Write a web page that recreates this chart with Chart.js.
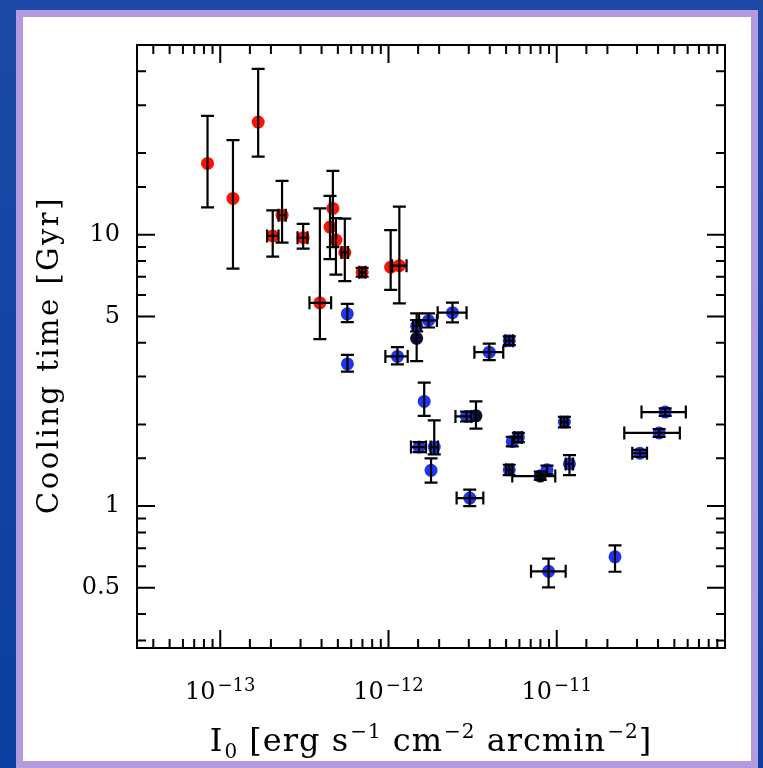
<!DOCTYPE html>
<html>
<head>
<meta charset="utf-8">
<script src="https://cdn.jsdelivr.net/npm/chart.js@4.4.0/dist/chart.umd.min.js"></script>
<style>
html, body { margin: 0; padding: 0; }
body { width: 763px; height: 768px; position: relative; overflow: hidden;
       background: linear-gradient(180deg, #1c49a6 0%, #0b3e9e 100%); }
#panel { position: absolute; left: 16px; top: 10px; width: 728px; height: 744px;
         background: #fff; border: 7px solid #b49be0; }
#chart { position: absolute; left: 0; top: 0; }
</style>
</head>
<body>
<div id="panel"></div>
<canvas id="chart" width="763" height="768"></canvas>
<script>
// red points (Gyr vs erg s-1 cm-2 arcmin-2), null = no error bar drawn
var redX   = [8.4e-14, 1.19e-13, 1.68e-13, 2.05e-13, 2.33e-13, 3.11e-13, 3.91e-13, 4.67e-13, 4.49e-13, 4.87e-13, 5.5e-13, 6.97e-13, 1.03e-12, 1.16e-12];
var redY   = [18.3, 13.6, 26.0, 9.9, 11.8, 9.75, 5.61, 12.5, 10.67, 9.55, 8.6, 7.27, 7.59, 7.69];
var redYlo = [12.6, 7.5, 19.4, 8.3, 9.35, 8.88, 4.12, 9.0, 8.13, 7.13, 6.74, 7.0, 6.26, 5.58];
var redYhi = [27.4, 22.3, 40.8, 12.3, 15.8, 10.96, 12.5, 17.2, 13.9, 11.5, 11.46, 7.55, 10.4, 12.7];
var redXlo = [null, null, null, 1.90e-13, 2.22e-13, 2.88e-13, 3.39e-13, null, null, null, 5.25e-13, 6.7e-13, null, 1.05e-12];
var redXhi = [null, null, null, 2.22e-13, 2.45e-13, 3.30e-13, 4.56e-13, null, null, null, 5.75e-13, 7.3e-13, null, 1.28e-12];

// blue points
var blueX   = [5.69e-13, 5.7e-13, 1.13e-12, 1.47e-12, 1.73e-12, 2.40e-12, 3.97e-12, 5.22e-12, 1.63e-12, 2.91e-12, 1.52e-12, 1.87e-12, 1.79e-12, 3.04e-12, 5.44e-12, 5.91e-12, 5.22e-12, 8.75e-12, 1.19e-11, 1.11e-11, 8.94e-12, 2.22e-11, 3.12e-11, 4.06e-11, 4.41e-11];
var blueY   = [5.11, 3.34, 3.56, 4.61, 4.83, 5.16, 3.69, 4.07, 2.43, 2.14, 1.65, 1.65, 1.355, 1.07, 1.73, 1.79, 1.36, 1.36, 1.43, 2.04, 0.575, 0.65, 1.566, 1.86, 2.22];
var blueYlo = [4.76, 3.13, 3.33, 4.4, 4.55, 4.75, 3.45, 3.92, 2.15, 2.05, 1.58, 1.55, 1.22, 1.0, 1.66, 1.72, 1.30, 1.31, 1.30, 1.95, 0.502, 0.573, 1.52, 1.80, 2.15];
var blueYhi = [5.56, 3.61, 3.85, 4.85, 5.13, 5.62, 3.97, 4.22, 2.85, 2.23, 1.72, 2.07, 1.50, 1.15, 1.80, 1.86, 1.42, 1.41, 1.54, 2.13, 0.64, 0.716, 1.61, 1.92, 2.29];
var blueXlo = [null, null, 9.58e-13, 1.40e-12, 1.52e-12, 1.96e-12, 3.24e-12, 4.95e-12, null, 2.50e-12, 1.36e-12, 1.78e-12, null, 2.54e-12, null, 5.6e-12, 5.0e-12, null, 1.13e-11, 1.06e-11, 7.03e-12, null, 2.81e-11, 2.52e-11, 3.19e-11];
var blueXhi = [null, null, 1.30e-12, 1.55e-12, 1.94e-12, 2.91e-12, 4.81e-12, 5.5e-12, null, 3.1e-12, 1.67e-12, 1.97e-12, null, 3.66e-12, null, 6.2e-12, 5.45e-12, null, 1.25e-11, 1.16e-11, 1.13e-11, null, 3.44e-11, 5.39e-11, 5.85e-11];

// dark filled points
var darkX   = [1.47e-12, 3.31e-12, 7.98e-12];
var darkY   = [4.15, 2.15, 1.29];
var darkYlo = [3.42, 1.93, 1.25];
var darkYhi = [5.13, 2.43, 1.34];
var darkXlo = [null, null, 5.44e-12];
var darkXhi = [null, null, 9.8e-12];

var xMin = 3.2e-14, xMax = 1e-10;
var yMin = 0.32, yMax = 50;
var yLabels = [0.5, 1, 5, 10];

var xTitle = [['I', 0], ['0', -1], [' [erg s', 0], ['\u2212' + '1', 1], [' cm', 0], ['\u2212' + '2', 1], [' arcmin', 0], ['\u2212' + '2', 1], [']', 0]];
var yTitle = 'Cooling time [Gyr]';

var FONT = "'DejaVu Serif', 'Liberation Serif', serif";

function pts(xs, ys) {
    return xs.map(function (x, i) { return { x: x, y: ys[i] }; });
}
function isDecade(v) {
    var e = Math.log10(v);
    return Math.abs(e - Math.round(e)) < 1e-6;
}
function isYLabel(v) {
    return yLabels.some(function (t) { return Math.abs(v - t) / t < 1e-6; });
}

// error bars with caps, drawn on top of the markers
var errorBars = {
    id: 'errorBars',
    afterDatasetsDraw: function (chart) {
        var ctx = chart.ctx, xs = chart.scales.x, ys = chart.scales.y;
        var cap = 6.5;
        ctx.save();
        ctx.strokeStyle = '#000';
        ctx.lineWidth = 2.2;
        chart.data.datasets.forEach(function (ds) {
            var e = ds.err;
            ds.data.forEach(function (p, i) {
                var px = xs.getPixelForValue(p.x), py = ys.getPixelForValue(p.y);
                ctx.beginPath();
                if (e.ylo[i] != null) {
                    var y1 = ys.getPixelForValue(e.ylo[i]), y2 = ys.getPixelForValue(e.yhi[i]);
                    ctx.moveTo(px, y1); ctx.lineTo(px, y2);
                    ctx.moveTo(px - cap, y1); ctx.lineTo(px + cap, y1);
                    ctx.moveTo(px - cap, y2); ctx.lineTo(px + cap, y2);
                }
                if (e.xlo[i] != null) {
                    var x1 = xs.getPixelForValue(e.xlo[i]), x2 = xs.getPixelForValue(e.xhi[i]);
                    ctx.moveTo(x1, py); ctx.lineTo(x2, py);
                    ctx.moveTo(x1, py - cap); ctx.lineTo(x1, py + cap);
                    ctx.moveTo(x2, py - cap); ctx.lineTo(x2, py + cap);
                }
                ctx.stroke();
            });
        });
        ctx.restore();
    }
};

// box with inward ticks on all four sides, decade labels and axis titles
var frame = {
    id: 'frame',
    afterDraw: function (chart) {
        var ctx = chart.ctx, a = chart.chartArea, xs = chart.scales.x, ys = chart.scales.y;
        var big = 18, small = 9;
        ctx.save();
        ctx.strokeStyle = '#000';
        ctx.fillStyle = '#000';
        ctx.lineWidth = 2;
        ctx.strokeRect(a.left, a.top, a.right - a.left, a.bottom - a.top);
        ctx.beginPath();
        xs.ticks.forEach(function (t) {
            var px = xs.getPixelForValue(t.value);
            if (px < a.left + 1 || px > a.right - 1) return;
            var len = isDecade(t.value) ? big : small;
            ctx.moveTo(px, a.bottom); ctx.lineTo(px, a.bottom - len);
            ctx.moveTo(px, a.top); ctx.lineTo(px, a.top + len);
        });
        ys.ticks.forEach(function (t) {
            var py = ys.getPixelForValue(t.value);
            if (py < a.top + 1 || py > a.bottom - 1) return;
            var len = isYLabel(t.value) ? big : small;
            ctx.moveTo(a.left, py); ctx.lineTo(a.left + len, py);
            ctx.moveTo(a.right, py); ctx.lineTo(a.right - len, py);
        });
        ctx.stroke();

        // x decade labels: 10 with a raised exponent
        ctx.textAlign = 'left';
        ctx.textBaseline = 'alphabetic';
        xs.ticks.forEach(function (t) {
            var px = xs.getPixelForValue(t.value);
            if (!isDecade(t.value) || px < a.left + 1 || px > a.right - 1) return;
            var ex = '\u2212' + Math.abs(Math.round(Math.log10(t.value)));
            ctx.font = '24px ' + FONT;
            var w1 = ctx.measureText('10').width;
            ctx.font = '18px ' + FONT;
            var w2 = ctx.measureText(ex).width;
            var x0 = px - (w1 + w2 + 2) / 2;
            ctx.font = '24px ' + FONT;
            ctx.fillText('10', x0, 699);
            ctx.font = '18px ' + FONT;
            ctx.fillText(ex, x0 + w1 + 2, 691);
        });

        // x title with sub/superscripts
        var big1 = '32px ' + FONT, sm1 = '20px ' + FONT;
        ctx.letterSpacing = '1px';
        var tw = 0;
        xTitle.forEach(function (p) {
            ctx.font = p[1] ? sm1 : big1;
            tw += ctx.measureText(p[0]).width + (p[1] ? 1 : 0);
        });
        var cx = (a.left + a.right) / 2 - tw / 2, base = 751;
        xTitle.forEach(function (p) {
            ctx.font = p[1] ? sm1 : big1;
            var dy = p[1] === 1 ? -13 : (p[1] === -1 ? 7 : 0);
            ctx.fillText(p[0], cx + (p[1] ? 1 : 0), base + dy);
            cx += ctx.measureText(p[0]).width + (p[1] ? 1 : 0);
        });
        ctx.letterSpacing = '0px';

        // y title, rotated
        ctx.save();
        ctx.translate(50, 355);
        ctx.rotate(-Math.PI / 2);
        ctx.font = '29px ' + FONT;
        ctx.letterSpacing = '2.5px';
        ctx.textAlign = 'center';
        ctx.textBaseline = 'middle';
        ctx.fillText(yTitle, 0, 0);
        ctx.restore();

        ctx.restore();
    }
};

new Chart(document.getElementById('chart'), {
    type: 'scatter',
    data: {
        datasets: [{
            label: 'red',
            data: pts(redX, redY),
            err: { xlo: redXlo, xhi: redXhi, ylo: redYlo, yhi: redYhi },
            backgroundColor: '#ff1200',
            pointRadius: 6.5,
            pointBorderWidth: 0
        }, {
            label: 'blue',
            data: pts(blueX, blueY),
            err: { xlo: blueXlo, xhi: blueXhi, ylo: blueYlo, yhi: blueYhi },
            backgroundColor: '#1e36f0',
            pointRadius: 6.5,
            pointBorderWidth: 0
        }, {
            label: 'dark',
            data: pts(darkX, darkY),
            err: { xlo: darkXlo, xhi: darkXhi, ylo: darkYlo, yhi: darkYhi },
            backgroundColor: '#0c0c3a',
            pointRadius: 6.5,
            pointBorderWidth: 0
        }]
    },
    options: {
        responsive: false,
        animation: false,
        devicePixelRatio: 1,
        layout: { padding: { left: 0, top: 45, right: 38, bottom: 0 } },
        plugins: { legend: { display: false }, tooltip: { enabled: false } },
        scales: {
            x: {
                type: 'logarithmic',
                position: 'bottom',
                min: xMin,
                max: xMax,
                grid: { display: false, drawTicks: false },
                border: { display: false },
                ticks: { autoSkip: false, maxRotation: 0, callback: function () { return ''; } },
                afterFit: function (s) { s.height = 120; }
            },
            y: {
                type: 'logarithmic',
                position: 'left',
                min: yMin,
                max: yMax,
                grid: { display: false, drawTicks: false },
                border: { display: false },
                ticks: {
                    autoSkip: false,
                    padding: 17,
                    color: '#000',
                    font: { family: FONT, size: 24 },
                    callback: function (v) { return isYLabel(v) ? String(v) : ''; }
                },
                afterFit: function (s) { s.width = 137; }
            }
        }
    },
    plugins: [errorBars, frame]
});
</script>
</body>
</html>
